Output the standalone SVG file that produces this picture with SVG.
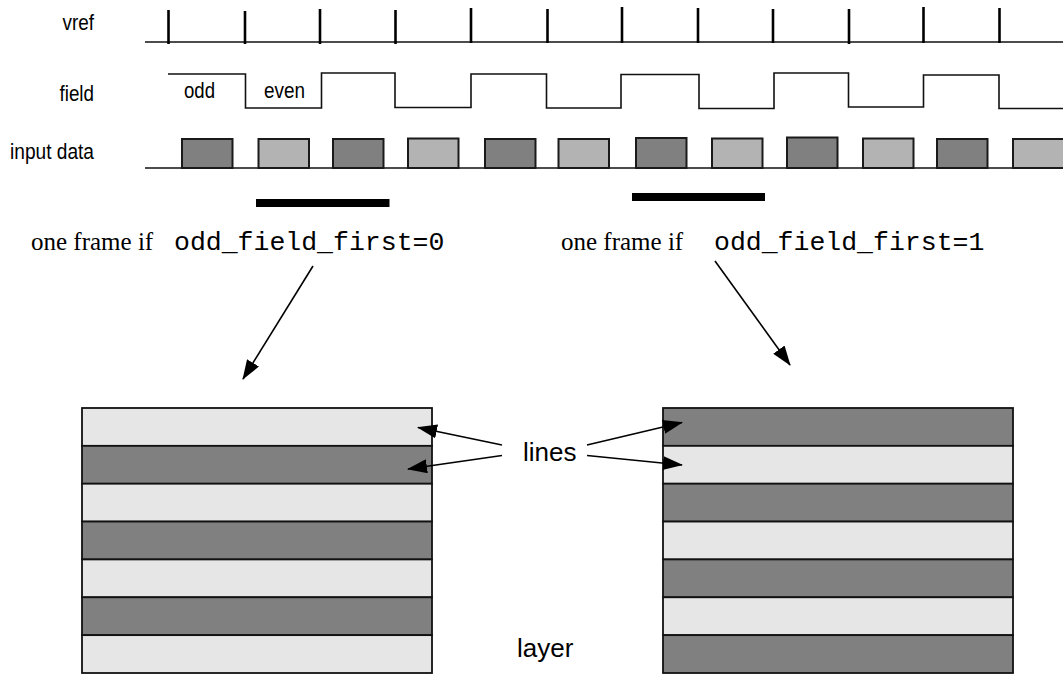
<svg xmlns="http://www.w3.org/2000/svg" width="1063" height="675" viewBox="0 0 1063 675">
<style>
.lbl{font-family:"Liberation Sans",Arial,sans-serif;font-size:22px;fill:#000}
.big{font-family:"Liberation Sans",Arial,sans-serif;font-size:26px;fill:#000}
.serif{font-family:"Liberation Serif","Times New Roman",serif;font-size:25px;fill:#000}
.mono{font-family:"Liberation Mono","Courier New",monospace;font-size:26.5px;fill:#000}
.wire{fill:none;stroke:#111;stroke-width:1.6}
.tick{stroke:#000;stroke-width:2.6}
.dk{fill:#808080;stroke:#1a1a1a;stroke-width:2}
.lt{fill:#b3b3b3;stroke:#1a1a1a;stroke-width:2}
.sd{fill:#808080;stroke:#111;stroke-width:1.8}
.sl{fill:#e6e6e6;stroke:#111;stroke-width:1.8}
.bar{fill:#000}
.arr{fill:none;stroke:#000;stroke-width:1.6}
</style>
<defs>
<marker id="ah" markerUnits="userSpaceOnUse" markerWidth="20" markerHeight="14" viewBox="0 0 20 14" refX="19" refY="7" orient="auto">
<path d="M0,0 L20,7 L0,14 z" fill="#000"/>
</marker>
</defs>

<g id="labels">
<text class="lbl" x="62.5" y="30" textLength="31.5" lengthAdjust="spacingAndGlyphs">vref</text>
<text class="lbl" x="59.5" y="101" textLength="34.5" lengthAdjust="spacingAndGlyphs">field</text>
<text class="lbl" x="10" y="159" textLength="84" lengthAdjust="spacingAndGlyphs">input data</text>
</g>

<g id="vref">
<line class="wire" x1="145" y1="42" x2="1063" y2="42"/>
<line class="tick" x1="168.5" y1="10" x2="168.5" y2="44"/>
<line class="tick" x1="245" y1="11" x2="245" y2="44"/>
<line class="tick" x1="320" y1="9" x2="320" y2="44"/>
<line class="tick" x1="395.5" y1="10" x2="395.5" y2="44"/>
<line class="tick" x1="471" y1="8" x2="471" y2="43"/>
<line class="tick" x1="547.5" y1="9" x2="547.5" y2="43"/>
<line class="tick" x1="622" y1="7" x2="622" y2="43"/>
<line class="tick" x1="698" y1="8" x2="698" y2="43"/>
<line class="tick" x1="773" y1="9" x2="773" y2="43"/>
<line class="tick" x1="849" y1="9" x2="849" y2="44"/>
<line class="tick" x1="923.5" y1="7" x2="923.5" y2="43"/>
<line class="tick" x1="999.5" y1="8" x2="999.5" y2="43"/>
</g>

<g id="field">
<path class="wire" d="M168,74 H245.5 V108 H321.5 V73 H395 V107.5 H471 V74 H546.5 V108 H621 V74.5 H699 V108.5 H774 V73 H848.5 V107 H923.5 V75 H999 V108.5 H1063"/>
<text class="lbl" x="184" y="97.5" textLength="31" lengthAdjust="spacingAndGlyphs">odd</text>
<text class="lbl" x="264" y="97.5" textLength="41" lengthAdjust="spacingAndGlyphs">even</text>
</g>

<g id="input-data">
<line class="wire" x1="145" y1="168" x2="1063" y2="168"/>
<rect class="dk" x="182" y="139" width="50.5" height="29"/>
<rect class="lt" x="258.5" y="139" width="50.5" height="29"/>
<rect class="dk" x="333" y="139" width="50.5" height="29"/>
<rect class="lt" x="408" y="138.5" width="50.5" height="29.5"/>
<rect class="dk" x="485" y="139" width="50.5" height="29"/>
<rect class="lt" x="558.5" y="139" width="50.5" height="29"/>
<rect class="dk" x="636" y="138" width="50.5" height="30"/>
<rect class="lt" x="712" y="138.5" width="50.5" height="29.5"/>
<rect class="dk" x="787" y="137.5" width="50.5" height="30.5"/>
<rect class="lt" x="863" y="138.5" width="50.5" height="29.5"/>
<rect class="dk" x="937" y="139" width="50.5" height="29"/>
<rect class="lt" x="1013" y="139" width="52" height="29"/>
</g>

<g id="frame-bars">
<rect class="bar" x="256" y="199" width="133.5" height="8"/>
<rect class="bar" x="632" y="193" width="133" height="8"/>
</g>

<g id="caption-left">
<text class="serif" x="31" y="250">one frame if</text>
<text class="mono" x="174" y="250">odd_field_first=0</text>
</g>
<g id="caption-right">
<text class="serif" x="561" y="250">one frame if</text>
<text class="mono" x="714" y="250">odd_field_first=1</text>
</g>

<g id="frame-left">
<rect class="sl" x="82" y="408" width="350" height="37.86"/>
<rect class="sd" x="82" y="445.86" width="350" height="37.86"/>
<rect class="sl" x="82" y="483.71" width="350" height="37.86"/>
<rect class="sd" x="82" y="521.57" width="350" height="37.86"/>
<rect class="sl" x="82" y="559.43" width="350" height="37.86"/>
<rect class="sd" x="82" y="597.29" width="350" height="37.86"/>
<rect class="sl" x="82" y="635.14" width="350" height="37.86"/>
</g>

<g id="frame-right">
<rect class="sd" x="663" y="408" width="350" height="37.86"/>
<rect class="sl" x="663" y="445.86" width="350" height="37.86"/>
<rect class="sd" x="663" y="483.71" width="350" height="37.86"/>
<rect class="sl" x="663" y="521.57" width="350" height="37.86"/>
<rect class="sd" x="663" y="559.43" width="350" height="37.86"/>
<rect class="sl" x="663" y="597.29" width="350" height="37.86"/>
<rect class="sd" x="663" y="635.14" width="350" height="37.86"/>
</g>

<g id="lines-label">
<text class="big" x="523" y="461">lines</text>
</g>
<g id="layer-label">
<text class="big" x="517" y="657">layer</text>
</g>

<g id="connectors">
<line class="arr" x1="313" y1="266" x2="243" y2="379" marker-end="url(#ah)"/>
<line class="arr" x1="715" y1="261" x2="790" y2="365" marker-end="url(#ah)"/>
<line class="arr" x1="502" y1="445" x2="418" y2="427.5" marker-end="url(#ah)"/>
<line class="arr" x1="502" y1="455.5" x2="408" y2="469" marker-end="url(#ah)"/>
<line class="arr" x1="587" y1="445" x2="682" y2="422.5" marker-end="url(#ah)"/>
<line class="arr" x1="587" y1="455.5" x2="682" y2="465" marker-end="url(#ah)"/>
</g>
</svg>
